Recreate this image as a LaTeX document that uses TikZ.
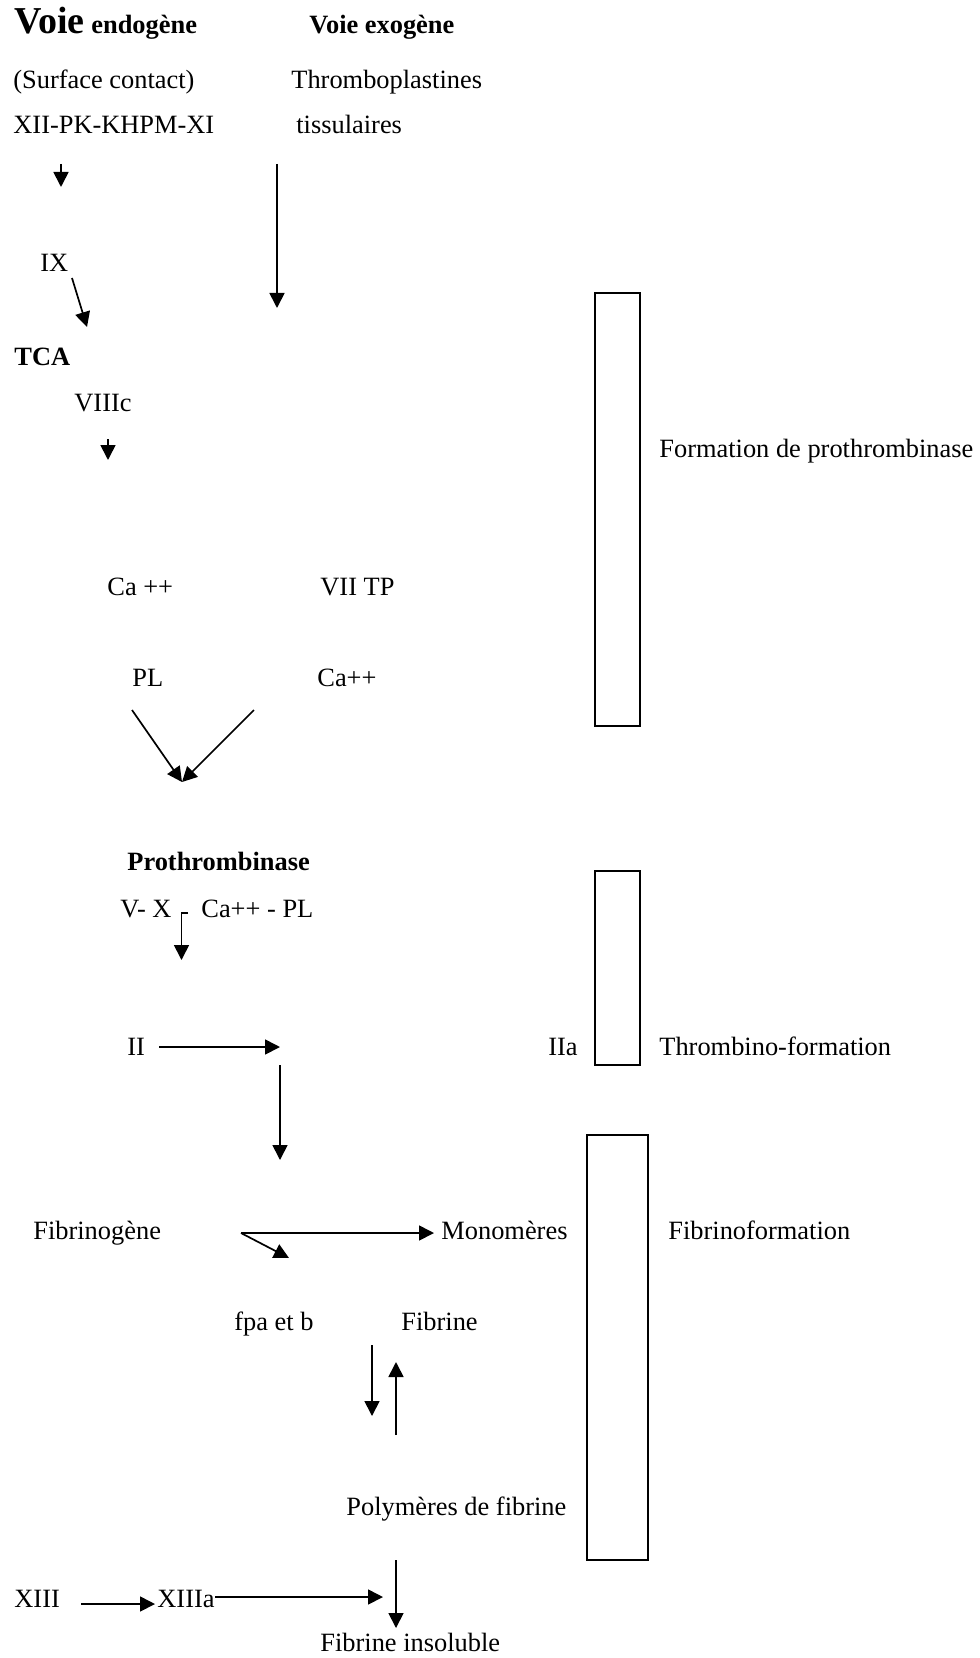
\documentclass[tikz,border=0pt]{standalone}
\usepackage{fontspec}
\setmainfont{Liberation Serif}
\usetikzlibrary{arrows.meta}

\begin{document}
\begin{tikzpicture}[x=0.5pt,y=-0.5pt,
  lbl/.style={anchor=base west,inner sep=0pt,font=\fontsize{13.2}{16}\selectfont},
  hd/.style={lbl,font=\fontsize{13.2}{16}\selectfont\bfseries},
  flow/.style={line width=0.85pt,-{Triangle[length=7.5pt,width=7.5pt]}},
  phase/.style={draw,line width=0.85pt}]
  \useasboundingbox (0,0) rectangle (979,1658);

  % the two pathways
  \node[hd] (endo) at (14,34) {{\fontsize{19}{20}\selectfont Voie} endogène};
  \node[hd] (exo) at (309,34) {Voie exogène};
  \node[lbl] (surf) at (13,89) {(Surface contact)};
  \node[lbl] (thrb) at (291,89) {Thromboplastines};
  \node[lbl] (xii) at (13,134) {XII-PK-KHPM-XI};
  \node[lbl] (tiss) at (296,134) {tissulaires};
  \node[lbl] (ix) at (40,272) {IX};
  \node[hd] (tca) at (14,365) {TCA};
  \node[lbl] (viii) at (74,411) {VIIIc};
  \node[lbl] (ca1) at (107,595) {Ca ++};
  \node[lbl] (vii) at (320,595) {VII TP};
  \node[lbl] (pl) at (132,686) {PL};
  \node[lbl] (ca2) at (317,686) {Ca++};

  \coordinate (a1) at (61,164);  \coordinate (a1e) at (61,187);
  \coordinate (a2) at (277,164); \coordinate (a2e) at (277,308);
  \coordinate (a3) at (72,278);  \coordinate (a3e) at (87,327);
  \coordinate (a4) at (108,439); \coordinate (a4e) at (108,460);
  \coordinate (v1) at (132,710); \coordinate (v2) at (254,710);
  \coordinate (vm) at (182,782);
  \draw[flow] (a1) -- (a1e);
  \draw[flow] (a2) -- (a2e);
  \draw[flow] (a3) -- (a3e);
  \draw[flow] (a4) -- (a4e);
  \draw[flow] (v1) -- (vm);
  \draw[flow] (v2) -- (vm);

  % prothrombinase and thrombin
  \node[hd] (proth) at (127,870) {Prothrombinase};
  \node[lbl] (vx) at (120,917) {V- X};
  \node[lbl] (capl) at (201,917) {Ca++ - PL};
  \node[lbl] (ii) at (127,1055) {II};
  \node[lbl] (iia) at (548,1055) {IIa};

  \coordinate (b1) at (188,913); \coordinate (b2) at (181.5,913);
  \coordinate (b3) at (181.5,960);
  \coordinate (c1) at (159,1047); \coordinate (c2) at (280,1047);
  \coordinate (c3) at (280,1065); \coordinate (c4) at (280,1160);
  \draw[flow] (b1) -- (b2) -- (b3);
  \draw[flow] (c1) -- (c2);
  \draw[flow] (c3) -- (c4);

  % fibrin
  \node[lbl] (fgn) at (33,1239) {Fibrinogène};
  \node[lbl] (mono) at (441,1239) {Monomères};
  \node[lbl] (fpa) at (234,1330) {fpa et b};
  \node[lbl] (fib) at (401,1330) {Fibrine};
  \node[lbl] (poly) at (346,1515) {Polymères de fibrine};
  \node[lbl] (xiii) at (14,1607) {XIII};
  \node[lbl] (xiiia) at (157,1607) {XIIIa};
  \node[lbl] (insol) at (320,1651) {Fibrine insoluble};

  \coordinate (d1) at (241,1233); \coordinate (d2) at (434,1233);
  \coordinate (d3) at (289,1258);
  \coordinate (e1) at (372,1345); \coordinate (e2) at (372,1416);
  \coordinate (f1) at (396,1435); \coordinate (f2) at (396,1362);
  \coordinate (g1) at (396,1560); \coordinate (g2) at (396,1628);
  \coordinate (h1) at (81,1604);  \coordinate (h2) at (155,1604);
  \coordinate (k1) at (215,1597); \coordinate (k2) at (383,1597);
  \draw[flow] (d1) -- (d2);
  \draw[flow] (d1) -- (d3);
  \draw[flow] (e1) -- (e2);
  \draw[flow] (f1) -- (f2);
  \draw[flow] (g1) -- (g2);
  \draw[flow] (h1) -- (h2);
  \draw[flow] (k1) -- (k2);

  % phases
  \draw[phase] (595,293) rectangle (640,726);
  \draw[phase] (595,871) rectangle (640,1065);
  \draw[phase] (587,1135) rectangle (648,1560);
  \node[lbl] (ph1) at (659,457) {Formation de prothrombinase};
  \node[lbl] (ph2) at (659,1055) {Thrombino-formation};
  \node[lbl] (ph3) at (668,1239) {Fibrinoformation};
\end{tikzpicture}
\end{document}
